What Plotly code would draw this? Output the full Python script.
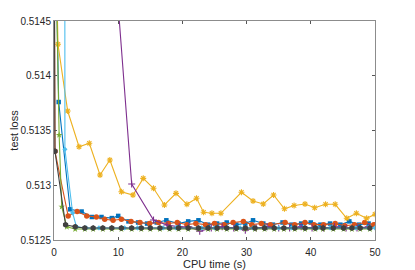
import plotly.graph_objects as go

# ---- data ----
blue_t = [0, 0.73, 2.5, 4.3, 5.9, 7.4, 9.0, 10.0, 11.6, 13.1, 14.5, 16.0, 17.5, 19.4, 20.9, 22.5,
          24.0, 25.4, 26.9, 28.4, 29.8, 31.0, 32.6, 34.1, 35.6, 37.0, 38.5, 40.0, 41.5, 43.0, 44.6, 46.0, 47.5, 49.0]
blue_y = [0.5160, 0.51376, 0.51278, 0.51276, 0.51271, 0.51271, 0.51270, 0.51272, 0.51267, 0.51266,
          0.51265, 0.51266, 0.51268, 0.51265, 0.51267, 0.51268, 0.51264, 0.51265, 0.51266, 0.51264,
          0.51265, 0.51268, 0.51265, 0.51264, 0.51266, 0.51264, 0.51265, 0.51266, 0.51264, 0.51265,
          0.51264, 0.51267, 0.51264, 0.51265]

orange_t = [0, 0.15, 2.2, 3.6, 5.1, 6.6, 7.9, 9.2, 10.5, 12.0, 13.4, 14.9, 16.3, 17.8, 19.2, 20.7,
            22.1, 23.6, 25.0, 26.5, 27.9, 29.5, 30.8, 32.3, 33.7, 36.0, 37.5, 39.1, 40.5, 42.0,
            43.8, 45.3, 46.8, 48.4, 49.8]
orange_y = [0.5160, 0.51331, 0.51272, 0.51276, 0.51272, 0.51271, 0.51269, 0.51268, 0.51269, 0.51267,
            0.51266, 0.51265, 0.51266, 0.51265, 0.51266, 0.51264, 0.51265, 0.51264, 0.51265, 0.51264,
            0.51266, 0.51267, 0.51264, 0.51265, 0.51264, 0.51266, 0.51264, 0.51266, 0.51264, 0.51264,
            0.51265, 0.51263, 0.51264, 0.51266, 0.51264]

yellow_t = [0, 0.62, 2.13, 3.9, 5.5, 7.17, 8.7, 10.5, 12.3, 13.9, 15.5, 17.2, 19.0, 20.7, 22.2,
            23.3, 24.6, 26.0, 29.2, 31.0, 32.6, 34.2, 35.9, 37.4, 39.1, 40.6, 42.3, 43.8, 45.6,
            47.1, 48.7, 50.0]
yellow_y = [0.5160, 0.514287, 0.513678, 0.513352, 0.513383, 0.513094, 0.513231, 0.512941, 0.512911,
            0.513063, 0.512972, 0.512820, 0.512926, 0.512826, 0.512881, 0.512753, 0.512744, 0.512744,
            0.512936, 0.512856, 0.512829, 0.512911, 0.512785, 0.512815, 0.512829, 0.512795, 0.512826,
            0.512826, 0.512698, 0.512744, 0.512698, 0.512735]

purple_t = [0, 4.0, 8.5, 12.1, 15.5, 17.6, 19.5, 21.0, 22.7, 24.5, 26.2, 28.0, 29.8, 31.5, 33.2,
            35.0, 36.7, 38.5, 40.2, 42.0, 43.7, 45.5, 47.2, 49.0]
purple_y = [0.60, 0.520, 0.5158, 0.513011, 0.512683, 0.512637, 0.51262, 0.51262, 0.51258, 0.51261,
            0.51262, 0.51261, 0.51259, 0.51261, 0.51262, 0.51261, 0.51261, 0.51262, 0.51261, 0.51261,
            0.51262, 0.51261, 0.51261, 0.51262]

green_t = [0, 0.8, 1.2, 2.0, 3.3, 4.8, 6.1, 7.6, 9.0, 10.5, 12.1, 13.6, 15.0, 16.5, 18.0, 19.4,
           20.9, 22.5, 24.0, 25.4, 26.9, 28.4, 29.8, 31.3, 32.8, 34.3, 35.8, 37.5, 39.1, 40.7,
           41.9, 43.5, 45.1, 46.4, 47.7, 49.2]
green_y = [0.5160, 0.513459, 0.512804, 0.51262, 0.51260, 0.51260, 0.51260, 0.51260, 0.51260, 0.51260,
           0.51260, 0.51260, 0.51260, 0.51260, 0.51260, 0.51260, 0.51260, 0.51260, 0.51260, 0.51260,
           0.51260, 0.51260, 0.51260, 0.51260, 0.51260, 0.51260, 0.51260, 0.51260, 0.51260, 0.51260,
           0.51260, 0.51260, 0.51260, 0.51260, 0.51260, 0.51260]

lblue_t = [1.65, 1.7, 2.9, 3.5, 5.0, 7.0, 9.0, 11.0, 13.0, 15.0, 17.0, 19.0, 21.0, 23.0, 25.0,
           27.0, 29.0, 31.0, 33.0, 35.0, 37.0, 39.0, 41.0, 43.0, 45.0, 47.0, 49.0, 50.0]
lblue_y = [0.5200, 0.513328, 0.512747, 0.51262, 0.51261, 0.51261, 0.51261, 0.51261, 0.51261, 0.51261,
           0.51261, 0.51261, 0.51261, 0.51261, 0.51261, 0.51261, 0.51261, 0.51261, 0.51261, 0.51261,
           0.51261, 0.51261, 0.51261, 0.51261, 0.51261, 0.51261, 0.51261, 0.51261]

dark_t = [0, 0.15, 1.8, 3.3, 4.8, 6.1, 7.6, 9.0, 10.5, 12.1, 13.6, 15.0, 16.5, 18.0, 19.4,
          20.9, 22.5, 24.0, 25.4, 26.9, 28.4, 29.8, 31.3, 32.8, 34.3, 35.8, 37.5, 39.1, 40.7,
          41.9, 43.5, 45.1, 46.4, 47.7, 49.2]
dark_y = [0.5160, 0.51331, 0.51264, 0.51262, 0.51261, 0.51261, 0.51261, 0.51261, 0.51261, 0.51261,
          0.51261, 0.51261, 0.51261, 0.51261, 0.51261, 0.51261, 0.51261, 0.51261, 0.51261, 0.51261,
          0.51261, 0.51261, 0.51261, 0.51261, 0.51261, 0.51261, 0.51261, 0.51261, 0.51261, 0.51261,
          0.51261, 0.51261, 0.51261, 0.51261, 0.51261]

x_ticks = [0, 10, 20, 30, 40, 50]
y_ticks = [0.5125, 0.513, 0.5135, 0.514, 0.5145]
y_tick_text = ["0.5125", "0.513", "0.5135", "0.514", "0.5145"]

fig = go.Figure()

def add(t, y, color, symbol, size, mline=None):
    marker = dict(symbol=symbol, size=size, color=color)
    if mline is not None:
        marker["line"] = dict(color=color, width=mline)
    fig.add_trace(go.Scatter(x=t, y=y, mode="lines+markers",
                             line=dict(color=color, width=1.1),
                             marker=marker, showlegend=False))

add(blue_t, blue_y, "#0072BD", "square", 4.5)
add(orange_t, orange_y, "#D95319", "circle", 5.5)
add(yellow_t, yellow_y, "#EDB120", "asterisk-open", 5, mline=1.1)
add(purple_t, purple_y, "#7E2F8E", "cross-thin-open", 5, mline=1.1)
add(green_t, green_y, "#77AC30", "star", 5)
add(lblue_t, lblue_y, "#4DBEEE", "diamond", 4)
add(dark_t, dark_y, "#404040", "hexagon", 6)

axis_common = dict(showline=True, linecolor="#8c8c8c", linewidth=1, mirror="ticks",
                   ticks="inside", ticklen=3, tickcolor="#555555", tickwidth=1,
                   showgrid=False, zeroline=False, automargin=False,
                   tickfont=dict(family="Liberation Sans, Arial", size=10, color="#262626"),
                   title_font=dict(family="Liberation Sans, Arial", size=11, color="#262626"))

fig.update_xaxes(range=[0, 50], tickvals=x_ticks, title_text="CPU time (s)", title_standoff=0,
                 ticklabelstandoff=3, **axis_common)
fig.update_yaxes(range=[0.5125, 0.5145], tickvals=y_ticks, ticktext=y_tick_text,
                 title_text="test loss", title_standoff=2, **axis_common)

# page body has an 8px default margin, so the figure is sized/offset to compensate
fig.update_layout(width=407, height=262, margin=dict(l=46, r=40, t=13, b=30),
                  plot_bgcolor="white", paper_bgcolor="white")

fig.write_html("out.html")
